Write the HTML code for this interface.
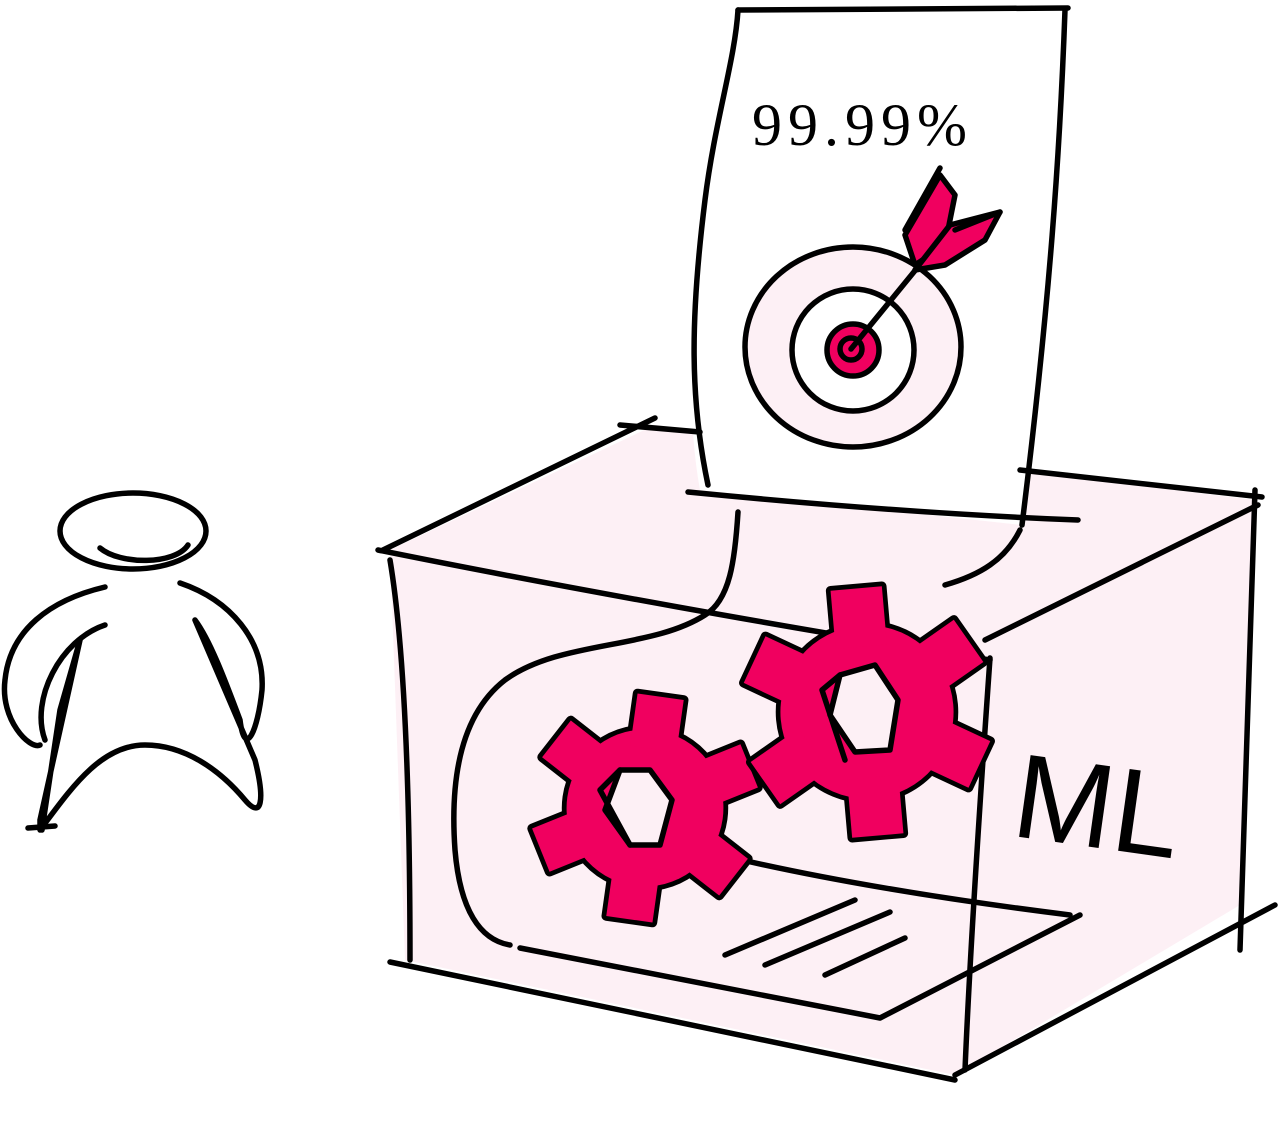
<!DOCTYPE html>
<html><head><style>html,body{margin:0;padding:0;background:#fff;}svg{display:block}</style></head>
<body>
<svg width="1280" height="1131" viewBox="0 0 1280 1131" xmlns="http://www.w3.org/2000/svg">
<defs>
<g id="gs">
  <circle r="74"/>
  <rect x="-22" y="-106" width="44" height="50"/>
  <rect x="-22" y="-106" width="44" height="50" transform="rotate(60)"/>
  <rect x="-22" y="-106" width="44" height="50" transform="rotate(120)"/>
  <rect x="-22" y="-106" width="44" height="50" transform="rotate(180)"/>
  <rect x="-22" y="-106" width="44" height="50" transform="rotate(240)"/>
  <rect x="-22" y="-106" width="44" height="50" transform="rotate(300)"/>
</g>
</defs>
<g fill="none" stroke="#000" stroke-width="5.5" stroke-linecap="round" stroke-linejoin="round">
<path d="M390,550 L655,425 L1255,500 L1240,905 L955,1075 L405,960 Z" fill="#fdf0f5" stroke="none"/>
<path d="M738,10 L1068,8 C1060,150 1050,300 1022,525 L700,490 C680,380 700,250 715,150 C725,80 735,40 738,10 Z" fill="#fff" stroke="none"/>
<path d="M738,10 L1068,8"/>
<path d="M738,10 C735,60 715,120 705,200 C690,320 690,400 708,485"/>
<path d="M1065,10 C1060,150 1050,300 1022,525"/>
<path d="M688,492 C820,505 950,515 1078,520"/>
<text x="752" y="145" font-family="Liberation Serif, serif" font-size="60" fill="#000" stroke="none" letter-spacing="6">99.99%</text>
<ellipse cx="853" cy="347" rx="108" ry="100" fill="#fdf0f5"/>
<circle cx="853" cy="350" r="61" fill="#fff"/>
<circle cx="853" cy="350" r="26" fill="#f0005f"/>
<circle cx="851" cy="349" r="11"/>
<path d="M851,349 L940,240"/>
<path d="M940,175 L955,195 L945,245 L915,265 L905,235 Z" fill="#f0005f"/>
<path d="M1000,212 L985,240 L945,265 L915,270 L950,225 Z" fill="#f0005f"/>
<path d="M940,168 L905,230 M1000,212 L955,230"/>
<path d="M378,550 C550,585 800,630 990,660"/>
<path d="M383,550 L655,418"/>
<path d="M620,425 L700,432"/>
<path d="M1020,470 L1262,497"/>
<path d="M1255,490 C1250,650 1245,800 1240,950"/>
<path d="M985,640 L1258,505"/>
<path d="M990,658 C980,800 970,950 965,1070"/>
<path d="M390,560 C405,650 410,800 410,960"/>
<path d="M390,962 L955,1080"/>
<path d="M955,1075 L1275,905"/>
<path d="M945,585 C980,575 1005,560 1020,530"/>
<path d="M738,512 C735,560 730,600 705,615 C650,650 560,640 505,680 C460,715 450,780 455,850 C460,910 480,940 510,945"/>
<path d="M520,948 L880,1018 L1080,915"/>
<path d="M700,850 C820,880 950,900 1070,915"/>
<path d="M725,955 L855,900 M765,965 L890,912 M825,975 L905,938"/>
<g transform="translate(645,808) rotate(8) scale(1.06)" fill="#000" stroke="#000" stroke-width="9"><use href="#gs"/></g>
<g transform="translate(645,808) rotate(8) scale(1.06)" fill="#f0005f" stroke="none"><use href="#gs"/></g>
<polygon points="620,770 650,770 672,800 660,845 630,845 605,810" fill="#fdf0f5"/>
<path d="M600,790 L630,845 M620,770 L600,790"/>
<g transform="translate(867,712) rotate(-5) scale(1.17)" fill="#000" stroke="#000" stroke-width="8"><use href="#gs"/></g>
<g transform="translate(867,712) rotate(-5) scale(1.17)" fill="#f0005f" stroke="none"><use href="#gs"/></g>
<polygon points="840,675 875,665 898,700 890,750 855,752 830,715" fill="#fdf0f5"/>
<path d="M822,690 L845,760 M840,675 L822,690"/>
<text x="1015" y="845" font-family="Liberation Sans, sans-serif" font-size="120" fill="#000" stroke="none" transform="rotate(8 1080 800)">ML</text>
<ellipse cx="133" cy="531" rx="73" ry="38" fill="#fff"/>
<path d="M100,548 C120,565 175,565 188,545"/>
<path d="M180,583 C230,600 265,640 262,690 C258,730 245,760 240,720 C225,680 210,640 195,620 L255,760 C265,800 262,820 245,800 C220,770 185,745 145,745 C100,745 70,790 40,830 L40,820 L80,640 L60,710 L42,830"/>
<path d="M105,587 C50,600 10,630 5,680 C0,720 30,750 40,745"/>
<path d="M105,625 C60,640 30,700 45,740"/>
<path d="M28,828 L55,826"/>
</g>
</svg>
</body></html>
